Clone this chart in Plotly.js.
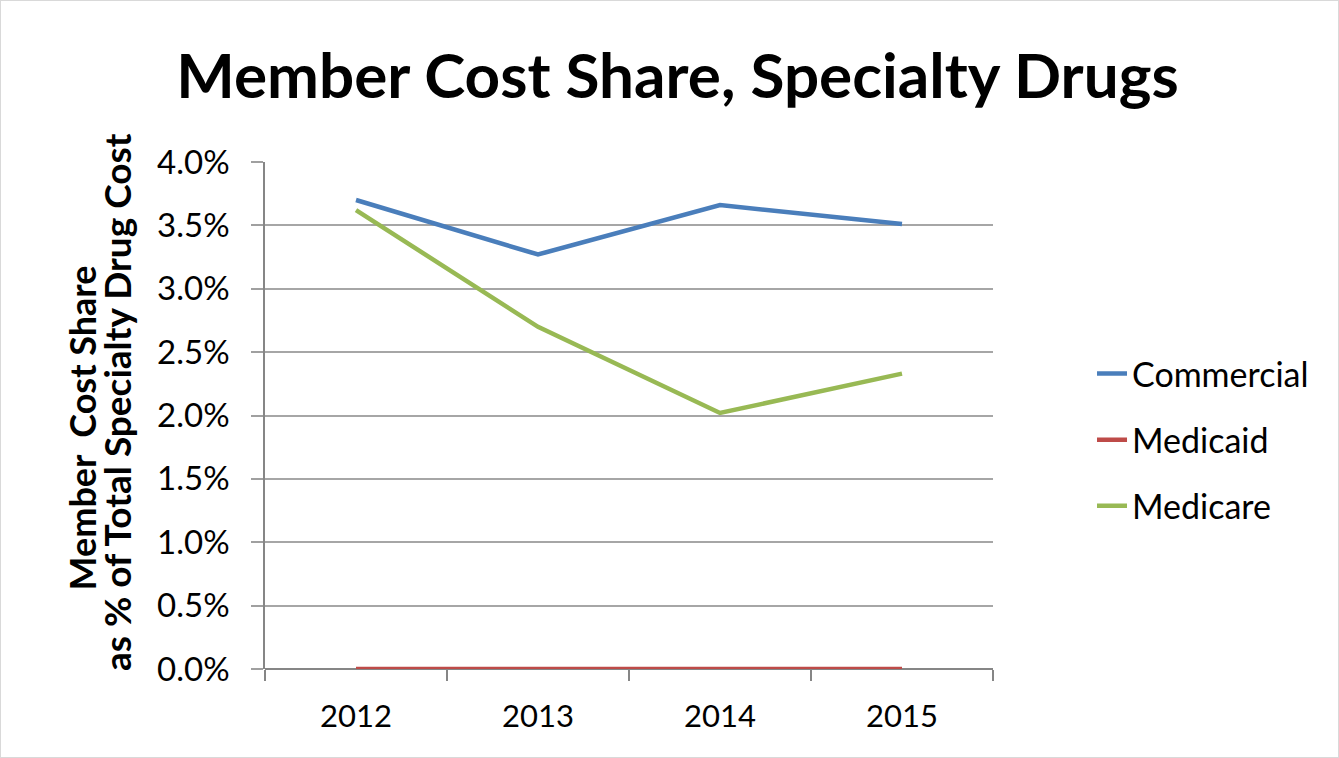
<!DOCTYPE html>
<html>
<head>
<meta charset="utf-8">
<script src="https://cdn.plot.ly/plotly-3.0.1.min.js"></script>
<style>
html,body{margin:0;padding:0;background:#fff;}
#chart{width:1337px;height:756px;border:1px solid #d9d9d9;}
</style>
</head>
<body>
<div id="chart"></div>
<script>
var years = ["2012", "2013", "2014", "2015"];
var commercial = [0.0370, 0.0327, 0.0366, 0.0351];
var medicaid = [0.0, 0.0, 0.0, 0.0];
var medicare = [0.0362, 0.0270, 0.0202, 0.0233];
var seriesNames = ["Commercial", "Medicaid", "Medicare"];
var seriesColors = ["#4a7ebb", "#be4b48", "#98b954"];
var yTicks = [0, 0.005, 0.01, 0.015, 0.02, 0.025, 0.03, 0.035, 0.04];
var yTitleLines = ["Member  Cost Share", "as % of Total Specialty Drug Cost"];

var FONT = "Lato, 'Open Sans', sans-serif";
var seriesData = [commercial, medicaid, medicare];
var traces = seriesData.map(function(vals, i){
  return {
    x: years, y: vals, type: "scatter", mode: "lines",
    name: seriesNames[i], legendgroup: "g" + i,
    line: {color: seriesColors[i], width: 4.5},
    hoverinfo: "x+y+name"
  };
});

var layout = {
  width: 1337, height: 756,
  paper_bgcolor: "#fff", plot_bgcolor: "#fff",
  margin: {l: 264, r: 345, t: 161, b: 88},
  font: {family: FONT, color: "#000"},
  title: {text: "Member Cost Share, Specialty Drugs", font: {family: FONT, size: 62, color: "#000", weight: "bold"},
          x: 0.506, xanchor: "center", xref: "container", y: 0.9, yanchor: "middle"},
  xaxis: {
    type: "category", tickson: "boundaries", ticks: "outside", ticklen: 11, tickcolor: "#868686", tickwidth: 1.5,
    showgrid: false, showline: false, zeroline: false,
    tickfont: {family: FONT, size: 31, color: "#000"},
    ticklabelstandoff: 26,
    range: [-0.5, 3.5]
  },
  yaxis: {
    range: [0, 0.04], tickvals: yTicks, tickformat: ".1%",
    ticks: "outside", ticklen: 12, tickcolor: "#a0a0a0", tickwidth: 1.5,
    showgrid: true, gridcolor: "#a6a6a6", gridwidth: 1.5,
    showline: true, linecolor: "#868686", linewidth: 1.5,
    zeroline: true, zerolinecolor: "#868686", zerolinewidth: 1.5,
    tickfont: {family: FONT, size: 33, color: "#000"},
    ticklabelstandoff: 15
  },
  annotations: [
    {text: yTitleLines[0], textangle: -90, xref: "paper", yref: "paper", x: -0.251, y: 0.475,
     xanchor: "center", yanchor: "middle", showarrow: false, font: {family: FONT, size: 36, color: "#000", weight: "bold"}},
    {text: yTitleLines[1], textangle: -90, xref: "paper", yref: "paper", x: -0.203, y: 0.527,
     xanchor: "center", yanchor: "middle", showarrow: false, font: {family: FONT, size: 37, color: "#000", weight: "bold"}}
  ],
  showlegend: true,
  legend: {x: 1.136, xanchor: "left", y: 0.452, yanchor: "middle", font: {family: FONT, size: 34, color: "#000"},
           tracegroupgap: 19, bgcolor: "rgba(0,0,0,0)", traceorder: "grouped"}
};

Plotly.newPlot("chart", traces, layout, {displayModeBar: false, responsive: false});
</script>
</body>
</html>
